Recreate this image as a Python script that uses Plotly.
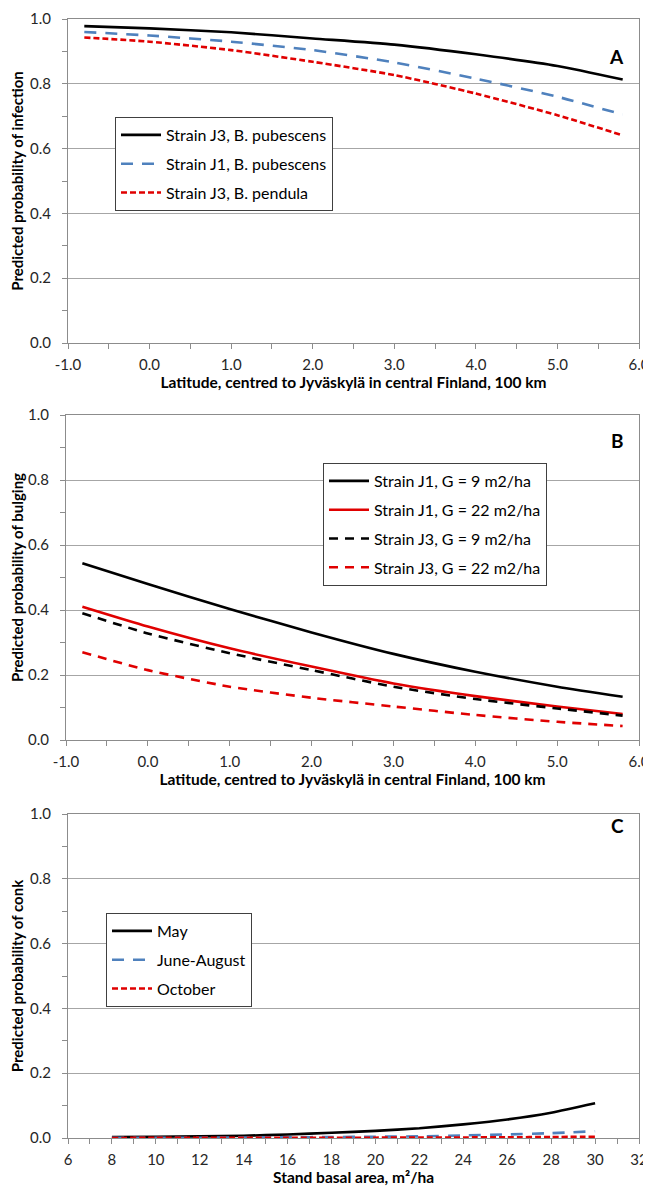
import plotly.graph_objects as go

# ---------------- data ----------------
lat = [-0.8, 0.0, 1.0, 2.0, 3.0, 4.0, 5.0, 5.8]

# Panel A: probability of infection
inf_j3_pub = [0.978, 0.971, 0.959, 0.940, 0.921, 0.891, 0.855, 0.813]
inf_j1_pub = [0.960, 0.949, 0.930, 0.904, 0.866, 0.816, 0.760, 0.705]
inf_j3_pen = [0.943, 0.930, 0.904, 0.868, 0.827, 0.770, 0.703, 0.641]

# Panel B: probability of bulging
bul_j1_g9 = [0.544, 0.480, 0.403, 0.331, 0.265, 0.210, 0.164, 0.133]
bul_j1_g22 = [0.410, 0.349, 0.282, 0.226, 0.174, 0.135, 0.103, 0.080]
bul_j3_g9 = [0.390, 0.328, 0.267, 0.215, 0.164, 0.126, 0.097, 0.075]
bul_j3_g22 = [0.270, 0.215, 0.164, 0.130, 0.103, 0.077, 0.056, 0.043]

# Panel C: probability of conk
basal = [8, 10, 12, 14, 16, 18, 20, 22, 24, 26, 28, 30]
conk_may = [0.003, 0.004, 0.005, 0.007, 0.011, 0.016, 0.022, 0.030, 0.042, 0.057, 0.078, 0.107]
conk_jun_aug = [0.0005, 0.0007, 0.001, 0.0015, 0.002, 0.003, 0.004, 0.005, 0.008, 0.011, 0.015, 0.021]
conk_oct = [0.0002, 0.0003, 0.0004, 0.0005, 0.0006, 0.0008, 0.001, 0.0013, 0.0017, 0.0022, 0.003, 0.004]

lat_ticks = [-1, 0, 1, 2, 3, 4, 5, 6]
lat_ticktext = ["-1.0", "0.0", "1.0", "2.0", "3.0", "4.0", "5.0", "6.0"]
basal_ticks = list(range(6, 33, 2))

# ---------------- styling ----------------
FONT = "Lato, 'Open Sans', sans-serif"
BLACK = "#000000"
BLUE = "#4F81BD"
RED = "#E00000"

# the page body has an 8px default margin, so the figure is drawn offset by 8px
OFF = 8
W, H = 651 - OFF, 1191 - OFF


def px_x(p):
    return (p - OFF) / W


def px_y(p):
    return 1 - (p - OFF) / H


fig = go.Figure()


def add(x, y, name, color, dash, xa, ya, legend, group):
    fig.add_trace(go.Scatter(
        x=x, y=y, name=name, mode="lines",
        line=dict(color=color, width=2.6, dash=dash, shape="spline", smoothing=0.6),
        xaxis=xa, yaxis=ya, legend=legend, legendgroup=group,
    ))


add(lat, inf_j3_pub, "Strain J3, B. pubescens", BLACK, "solid", "x", "y", "legend", "a1")
add(lat, inf_j1_pub, "Strain J1, B. pubescens", BLUE, "12px,9px", "x", "y", "legend", "a2")
add(lat, inf_j3_pen, "Strain J3, B. pendula", RED, "6px,3px", "x", "y", "legend", "a3")

add(lat, bul_j1_g9, "Strain J1, G = 9 m2/ha", BLACK, "solid", "x2", "y2", "legend2", "b1")
add(lat, bul_j1_g22, "Strain J1, G = 22 m2/ha", RED, "solid", "x2", "y2", "legend2", "b2")
add(lat, bul_j3_g9, "Strain J3, G = 9 m2/ha", BLACK, "9px,7px", "x2", "y2", "legend2", "b3")
add(lat, bul_j3_g22, "Strain J3, G = 22 m2/ha", RED, "9px,7px", "x2", "y2", "legend2", "b4")

add(basal, conk_may, "May", BLACK, "solid", "x3", "y3", "legend3", "c1")
add(basal, conk_jun_aug, "June-August", BLUE, "12px,9px", "x3", "y3", "legend3", "c2")
add(basal, conk_oct, "October", RED, "6px,3px", "x3", "y3", "legend3", "c3")

AXLINE = "#8C8C8C"
GRID = "#A6A6A6"
TICKFONT = dict(family=FONT, size=15, color="#262626")
XTITLEFONT = dict(family=FONT, size=15.5, color="#000000", weight="bold")
YTITLEFONT = dict(family=FONT, size=15, color="#000000", weight="bold")

XR = 639  # right edge of plot areas (px)


def xaxis(domain, anchor, rng, tickvals, ticktext, dtick_minor, title):
    return dict(
        domain=domain, anchor=anchor, range=rng, automargin=False,
        tickmode="array", tickvals=tickvals, ticktext=ticktext,
        showline=True, linecolor=AXLINE, linewidth=1, mirror=True,
        ticks="outside", ticklen=5, tickcolor=AXLINE,
        minor=dict(dtick=dtick_minor, ticks="outside", ticklen=5, tickcolor=AXLINE, showgrid=False),
        showgrid=False, zeroline=False,
        tickfont=TICKFONT, ticklabelstandoff=3,
        title=dict(text=title, font=XTITLEFONT, standoff=5),
    )


def yaxis(domain, anchor, title):
    return dict(
        domain=domain, anchor=anchor, range=[0, 1.0], automargin=False,
        tickmode="array", tickvals=[0, 0.2, 0.4, 0.6, 0.8, 1.0],
        ticktext=["0.0", "0.2", "0.4", "0.6", "0.8", "1.0"],
        showline=True, linecolor=AXLINE, linewidth=1, mirror=True,
        ticks="outside", ticklen=5, tickcolor=AXLINE,
        minor=dict(dtick=0.1, ticks="outside", ticklen=5, tickcolor=AXLINE, showgrid=False),
        showgrid=True, gridcolor=GRID, gridwidth=1, zeroline=False,
        tickfont=TICKFONT, ticklabelstandoff=8,
        title=dict(text=title, font=YTITLEFONT, standoff=7),
    )


lat_title = "Latitude, centred to Jyväskylä in central Finland, 100 km"

legend_common = dict(
    bgcolor="white", bordercolor="#404040", borderwidth=1,
    font=dict(family=FONT, size=16, color="#000000"),
    xanchor="left", yanchor="top", traceorder="grouped",
    tracegroupgap=5, itemwidth=40,
)

fig.update_layout(
    width=W, height=H,
    margin=dict(l=0, r=0, t=0, b=0, autoexpand=False),
    paper_bgcolor="white", plot_bgcolor="white",
    font=dict(family=FONT),
    showlegend=True,
    xaxis=xaxis([px_x(68), px_x(XR)], "y", [-1, 6], lat_ticks, lat_ticktext, 0.5, lat_title),
    yaxis=yaxis([px_y(343), px_y(19)], "x", "Predicted probability of infection"),
    xaxis2=xaxis([px_x(66), px_x(XR)], "y2", [-1, 6], lat_ticks, lat_ticktext, 0.5, lat_title),
    yaxis2=yaxis([px_y(740), px_y(415)], "x2", "Predicted probability of bulging"),
    xaxis3=xaxis([px_x(68), px_x(XR)], "y3", [6, 32], basal_ticks, [str(v) for v in basal_ticks], 1,
                 "Stand basal area, m²/ha"),
    yaxis3=yaxis([px_y(1138), px_y(814)], "x3", "Predicted probability of conk"),
    legend=dict(x=px_x(115), y=px_y(117), **legend_common),
    legend2=dict(x=px_x(323), y=px_y(463), **legend_common),
    legend3=dict(x=px_x(106), y=px_y(913), **legend_common),
    annotations=[
        dict(text="A", x=px_x(626), y=px_y(43), xref="paper", yref="paper", showarrow=False,
             font=dict(family=FONT, size=19, color="#000000", weight="bold")),
        dict(text="B", x=px_x(626), y=px_y(440), xref="paper", yref="paper", showarrow=False,
             font=dict(family=FONT, size=19, color="#000000", weight="bold")),
        dict(text="C", x=px_x(626), y=px_y(839), xref="paper", yref="paper", showarrow=False,
             font=dict(family=FONT, size=19, color="#000000", weight="bold")),
    ],
)

fig.write_html("out.html")
